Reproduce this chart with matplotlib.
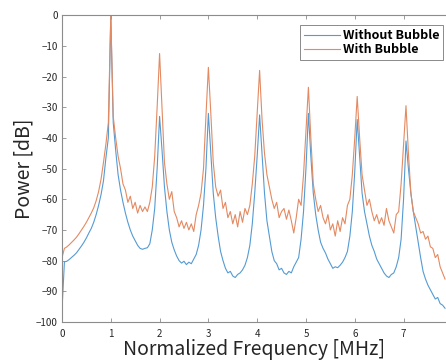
import numpy as np
import matplotlib
matplotlib.use("Agg")
import matplotlib.pyplot as plt

plt.rcParams["font.family"] = ["Noto Sans CJK JP", "DejaVu Sans"]
plt.rcParams["axes.unicode_minus"] = True

# frequency grid in MHz (0.05 MHz step)
freq = np.arange(158) * 0.05

# power spectrum without bubble [dB]
without_bubble = [
    # 0 - 1
    -96, -80.4, -80.2, -79.6, -78.9, -78.2, -77.4, -76.3, -75.2, -74.0,
    -72.6, -71.0, -69.5, -67.5, -65.0, -62.0, -58.5, -54.0, -46.5, -40.0, 0,
    # 1 - 2
    -35, -44, -52, -57, -61, -64.5, -67.5, -70, -72, -73.5,
    -75, -76, -76.3, -76, -75.8, -74.5, -70, -63, -50, -33,
    # 2 - 3
    -44, -56, -64, -70, -74, -76.5, -78.5, -80, -80.8, -80.2,
    -81.3, -80.5, -81, -79.5, -78, -75, -70, -62, -50, -32,
    # 3 - 4
    -45, -58, -66, -72, -77, -80, -82.5, -84, -83.5, -85,
    -85.5, -84.5, -84, -83, -81.5, -79, -75, -68, -58, -46, -32.5,
    # 4 - 5
    -45, -58, -67, -72, -77, -80, -81, -83, -82.5, -84,
    -84.5, -83.5, -84, -82, -80.5, -79, -73, -64, -50, -32,
    # 5 - 6
    -46, -58, -65, -70, -74, -76, -77.5, -79.5, -81, -82.5,
    -82, -82.3, -81.5, -80.5, -79, -77, -72, -64, -51, -34,
    # 6 - 7
    -46, -58, -64, -68, -72, -75, -77, -79.5, -81, -82.5,
    -84, -85, -85.5, -84.5, -84, -82, -79, -73, -60, -41,
    # 7 - end
    -50, -58, -64, -69, -74, -79, -83.5, -86, -88, -89.5,
    -91, -92.5, -92, -94, -94.5, -95.5,
]

# power spectrum with bubble [dB]
with_bubble = [
    # 0 - 1
    -79, -76, -75.5, -74.8, -74, -73.2, -72.3, -71.2, -70, -68.8,
    -67.5, -66, -64.5, -62.8, -60.5, -57.5, -53.5, -48, -42, -35, 0,
    # 1 - 2
    -33, -40, -46, -50, -55, -57, -61, -59, -63, -61,
    -64.5, -62, -64, -62.5, -64, -61, -56, -46, -30, -12.5,
    # 2 - 3
    -30, -48, -55, -60, -57.5, -64, -66, -69, -67, -69.5,
    -67.5, -70, -68, -70.5, -65, -62, -58, -50, -33, -17,
    # 3 - 4
    -32, -48, -56, -59, -57, -63, -61, -66, -64, -68,
    -65, -69, -64, -67.5, -63, -65, -62, -55, -46, -32, -18,
    # 4 - 5
    -34, -45, -52, -56, -60, -63, -61, -66, -64, -63,
    -66.5, -63.5, -67, -71, -66, -60, -62, -52, -38, -23.5,
    # 5 - 6
    -40, -55, -60, -64, -62, -66, -68, -65, -70, -68,
    -72, -67, -70.5, -66, -68, -62, -60, -52, -40, -26.5,
    # 6 - 7
    -40, -52, -57, -62, -60, -64, -67, -65, -68, -66,
    -68.5, -63, -67, -69, -71, -65, -64, -55, -42, -29.5,
    # 7 - end
    -45, -58, -64, -66, -68, -71, -70.5, -73, -72, -75.5,
    -76, -79, -78, -82, -84, -86,
]

x_ticks = [0, 1, 2, 3, 4, 5, 6, 7]
y_ticks = [0, -10, -20, -30, -40, -50, -60, -70, -80, -90, -100]

BLUE = "#559bd3"
ORANGE = "#e38a62"
SPINE = "#8c8c8c"
TEXT = "#262626"


def main():
    fig = plt.figure(figsize=(4.46, 3.61), dpi=100)
    ax = fig.add_axes([0.139, 0.108, 0.861, 0.850])

    ax.plot(freq, without_bubble, color=BLUE, lw=0.8, label="Without Bubble")
    ax.plot(freq, with_bubble, color=ORANGE, lw=0.8, label="With Bubble")

    ax.set_xlim(0, 7.87)
    ax.set_ylim(-100, 0)
    ax.set_xticks(x_ticks)
    ax.set_yticks(y_ticks)

    for side in ["left", "bottom", "top"]:
        ax.spines[side].set_color(SPINE)
        ax.spines[side].set_linewidth(0.8)
    ax.spines["right"].set_visible(False)

    ax.tick_params(direction="in", length=3, width=0.6, color=SPINE,
                   labelsize=7, labelcolor=TEXT, top=True)
    ax.tick_params(axis="x", pad=5)
    ax.tick_params(axis="y", pad=3)

    ax.set_xlabel("Normalized Frequency [MHz]", fontsize=14, color=TEXT, labelpad=0)
    ax.set_ylabel("Power [dB]", fontsize=14, color=TEXT, labelpad=1)

    leg = ax.legend(loc="upper right", bbox_to_anchor=(0.992, 0.967),
                    frameon=True, fancybox=False,
                    handlelength=2.9, handletextpad=0.2, borderpad=0.3,
                    labelspacing=0.1, borderaxespad=0,
                    prop={"weight": "bold", "size": 9})
    leg.get_frame().set_edgecolor("#555555")
    leg.get_frame().set_linewidth(0.6)
    for line in leg.get_lines():
        line.set_linewidth(0.8)

    fig.savefig("out.png", dpi=100)
    plt.close(fig)


if __name__ == "__main__":
    main()
